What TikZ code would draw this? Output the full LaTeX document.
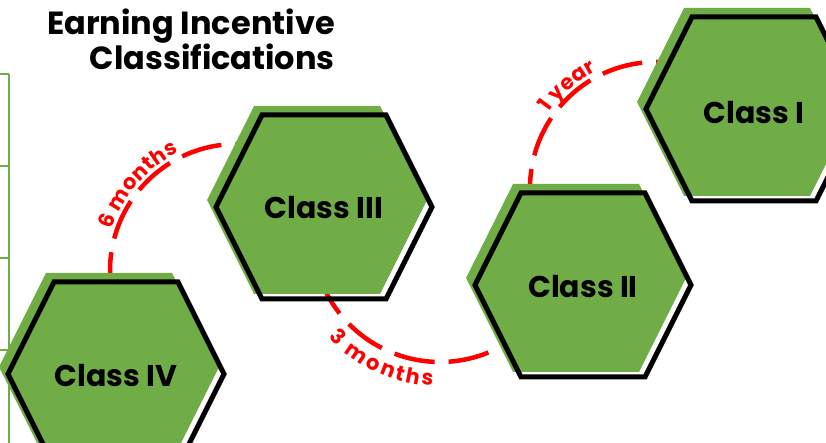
\documentclass[tikz,border=0pt]{standalone}
\usepackage{fontspec}
\setmainfont{Poppins}
\usetikzlibrary{decorations.text}

\definecolor{hexgreen}{RGB}{112,173,71}
\newcommand\waitfont{\fontsize{21}{21}\selectfont\bfseries\color{red}}

\begin{document}
\begin{tikzpicture}[x=1pt,y=1pt,
    hexfill/.style={fill=hexgreen},
    hexline/.style={draw=black,line width=5pt},
    classlabel/.style={font=\fontsize{30}{32}\selectfont\bfseries,inner sep=0pt},
    titletext/.style={font=\fontsize{32}{34}\selectfont\bfseries,inner sep=0pt,anchor=base east},
    waitline/.style={draw=red,line width=4.5pt,dash pattern=on 41pt off 14pt},
    waittext/.style 2 args={decorate,decoration={text along path,text align=center,raise=#1,text={|\waitfont|#2}}}]

    \useasboundingbox (0,0) rectangle (826,443);

    % edge of the table on the left
    \draw[hexgreen,line width=1.5pt] (9,369) -- (9,0);
    \foreach \ty in {369,277,185,93}
        \draw[hexgreen,line width=1.5pt] (0,\ty) -- (9,\ty);

    % waiting times between the classes
    \coordinate (wait43) at (237,172);
    \coordinate (wait32) at (440,209);
    \coordinate (wait21) at (656,255);
    \draw[waitline] (wait43) ++(190:127) arc[start angle=190,end angle=80,radius=127];
    \draw[waitline] (wait32) ++(200:128) arc[start angle=200,end angle=310,radius=128];
    \draw[waitline] (wait21) ++(190:126) arc[start angle=190,end angle=80,radius=126];
    \path[waittext={5pt}{6 months}] (wait43) ++(183:127) arc[start angle=183,end angle=95,radius=127];
    \path[waittext={-24pt}{3 months}] (wait32) ++(205:128) arc[start angle=205,end angle=285,radius=128];
    \path[waittext={5pt}{1 year}] (wait21) ++(182:126) arc[start angle=182,end angle=80,radius=126];

    % the four classes
    \foreach \cx/\cy/\nm/\txt/\dy in {116/69/classiv/Class IV/-2, 324/236/classiii/Class III/-0.5,
                                      583/158/classii/Class II/-1.5, 754/334/classi/Class I/-4}{
        \fill[hexfill] (\cx-7,\cy+7) ++(-110,0) -- ++(47,94) -- ++(126,0) -- ++(47,-94) -- ++(-47,-94) -- ++(-126,0) -- cycle;
        \draw[hexline] (\cx,\cy) ++(-108,0) -- ++(46,92) -- ++(124,0) -- ++(46,-92) -- ++(-46,-92) -- ++(-124,0) -- cycle;
        \node[classlabel] (\nm) at (\cx,\cy+\dy) {\txt};
    }

    \node[titletext] (titleone) at (335,408) {Earning Incentive};
    \node[titletext] (titletwo) at (335,373) {Classifications};
\end{tikzpicture}
\end{document}
